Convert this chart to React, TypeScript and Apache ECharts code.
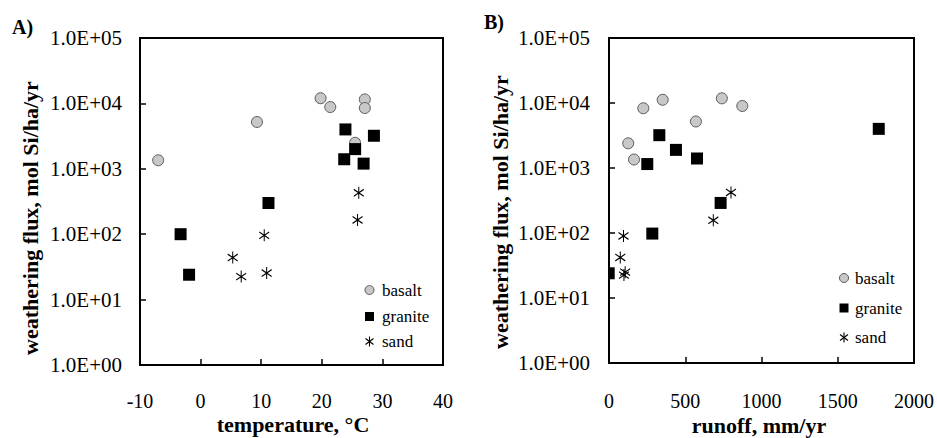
import React, { useEffect, useRef } from "react";
import * as echarts from "echarts";

// ---- Panel A: temperature (°C) vs weathering flux ----
const basaltTemp = [-7, 9.3, 19.8, 21.4, 27.1, 27.1, 25.5];
const basaltFluxA = [1350, 5200, 12000, 8800, 11500, 8500, 2500];
const graniteTemp = [-3.3, -1.9, 11.2, 23.9, 28.6, 25.5, 23.7, 26.9];
const graniteFluxA = [100, 24, 300, 4000, 3200, 2000, 1400, 1200];
const sandTemp = [5.3, 6.7, 10.5, 10.9, 26.1, 25.9];
const sandFluxA = [44, 22.5, 96, 25.5, 430, 165];

// ---- Panel B: runoff (mm/yr) vs weathering flux ----
const basaltRunoff = [126, 164, 225, 352, 570, 740, 874];
const basaltFluxB = [2400, 1350, 8300, 11200, 5200, 11800, 9000];
const graniteRunoff = [330, 439, 577, 251, 1769, 732, 284, -2];
const graniteFluxB = [3200, 1900, 1400, 1150, 4000, 290, 98, 24];
const sandRunoff = [95, 74, 98, 106, 800, 684];
const sandFluxB = [90, 42, 22.5, 25, 420, 157];

const tempTicks = { min: -10, max: 40, interval: 10 };
const runoffTicks = { min: 0, max: 2000, interval: 500 };
const fluxRange = { min: 1, max: 100000 };

const seriesNames = ["basalt", "granite", "sand"];

const FONT = "'Liberation Serif', 'Times New Roman', serif";
const STAR = "path://M5,0 L5,12 M0,2.6 L10,9.4 M0,9.4 L10,2.6";

const zip = (xs: number[], ys: number[]) => xs.map((x, i) => [x, ys[i]]);

const circleStyle = { color: "#c8c8c8", borderColor: "#5a5a5a", borderWidth: 1, opacity: 1 };
const squareStyle = { color: "#000", borderColor: "#000", borderWidth: 0, opacity: 1 };
const starStyle = { color: "#000", borderColor: "#000", borderWidth: 1.1, opacity: 1 };

function xAxisCfg(grid: number, t: { min: number; max: number; interval: number }, margin: number) {
  return {
    gridIndex: grid,
    type: "value",
    min: t.min,
    max: t.max,
    interval: t.interval,
    axisLine: { show: true, onZero: false, lineStyle: { color: "#000", width: 2 } },
    axisTick: { show: true, inside: true, length: 6, lineStyle: { color: "#000", width: 1.5 } },
    axisLabel: {
      fontSize: 20,
      color: "#000",
      fontFamily: FONT,
      margin,
      formatter: (v: number) => String(v),
    },
    splitLine: { show: false },
  };
}

function yAxisCfg(grid: number, margin: number) {
  return {
    gridIndex: grid,
    type: "log",
    logBase: 10,
    min: fluxRange.min,
    max: fluxRange.max,
    axisLine: { show: true, onZero: false, lineStyle: { color: "#000", width: 2 } },
    axisTick: { show: true, inside: true, length: 6, lineStyle: { color: "#000", width: 1.5 } },
    minorTick: { show: false },
    axisLabel: {
      fontSize: 21,
      color: "#000",
      fontFamily: FONT,
      margin,
      formatter: (v: number) => "1.0E+" + String(Math.round(Math.log10(v))).padStart(2, "0"),
    },
    splitLine: { show: false },
  };
}

// hand-drawn legend: icons + serif labels
function legendGraphics(cx: number, textX: number, ys: number[]) {
  const els: any[] = [];
  const [y0, y1, y2] = ys;
  els.push({ type: "circle", shape: { cx, cy: y0, r: 4.5 }, style: { fill: "#c8c8c8", stroke: "#5a5a5a", lineWidth: 1 } });
  els.push({ type: "rect", shape: { x: cx - 4.5, y: y1 - 4.5, width: 9, height: 9 }, style: { fill: "#000" } });
  els.push({ type: "line", shape: { x1: cx, y1: y2 - 5, x2: cx, y2: y2 + 5 }, style: { stroke: "#000", lineWidth: 1.1 } });
  els.push({ type: "line", shape: { x1: cx - 4, y1: y2 - 3, x2: cx + 4, y2: y2 + 3 }, style: { stroke: "#000", lineWidth: 1.1 } });
  els.push({ type: "line", shape: { x1: cx - 4, y1: y2 + 3, x2: cx + 4, y2: y2 - 3 }, style: { stroke: "#000", lineWidth: 1.1 } });
  seriesNames.forEach((n, i) => {
    els.push({
      type: "text",
      x: textX,
      y: ys[i],
      style: {
        text: n,
        fontSize: 17,
        fontFamily: FONT,
        fontWeight: "normal",
        fill: "#000",
        align: "left",
        verticalAlign: "middle",
        textAlign: "left",
        textVerticalAlign: "middle",
      },
    });
  });
  return els;
}

export default function App() {
  const ref = useRef<HTMLDivElement>(null);

  useEffect(() => {
    if (!ref.current) return;
    const chart = echarts.init(ref.current, null, { renderer: "svg" });

    const titleStyle = (text: string) => ({
      text,
      font: `bold 22px ${FONT}`,
      fill: "#000",
      align: "center",
      verticalAlign: "middle",
      textAlign: "center",
      textVerticalAlign: "middle",
    });

    const option: any = {
      animation: false,
      backgroundColor: "#fff",
      textStyle: { fontFamily: FONT },
      grid: [
        { left: 140, top: 38, width: 303, height: 327, show: true, borderColor: "#000", borderWidth: 2 },
        { left: 609, top: 38, width: 305, height: 325, show: true, borderColor: "#000", borderWidth: 2 },
      ],
      xAxis: [xAxisCfg(0, tempTicks, 26), xAxisCfg(1, runoffTicks, 28)],
      yAxis: [yAxisCfg(0, 18), yAxisCfg(1, 19)],
      series: [
        {
          name: "basalt",
          type: "scatter",
          xAxisIndex: 0,
          yAxisIndex: 0,
          symbol: "circle",
          symbolSize: 11,
          itemStyle: circleStyle,
          data: zip(basaltTemp, basaltFluxA),
        },
        {
          name: "granite",
          type: "scatter",
          xAxisIndex: 0,
          yAxisIndex: 0,
          symbol: "rect",
          symbolSize: 12,
          itemStyle: squareStyle,
          data: zip(graniteTemp, graniteFluxA),
        },
        {
          name: "sand",
          type: "scatter",
          xAxisIndex: 0,
          yAxisIndex: 0,
          symbol: STAR,
          symbolSize: [10, 12],
          itemStyle: starStyle,
          data: zip(sandTemp, sandFluxA),
        },
        {
          name: "basalt",
          type: "scatter",
          xAxisIndex: 1,
          yAxisIndex: 1,
          symbol: "circle",
          symbolSize: 11,
          itemStyle: circleStyle,
          data: zip(basaltRunoff, basaltFluxB),
        },
        {
          name: "granite",
          type: "custom",
          xAxisIndex: 1,
          yAxisIndex: 1,
          encode: { x: 0, y: 1 },
          clip: false,
          renderItem: (params: any, api: any) => {
            const p = api.coord([api.value(0), api.value(1)]);
            const cs = params.coordSys;
            const half = 6;
            const x0 = Math.max(p[0] - half, cs.x + 1);
            const x1 = Math.min(p[0] + half, cs.x + cs.width);
            const y0 = Math.max(p[1] - half, cs.y);
            const y1 = Math.min(p[1] + half, cs.y + cs.height);
            if (x1 <= x0 || y1 <= y0) return null;
            return { type: "rect", shape: { x: x0, y: y0, width: x1 - x0, height: y1 - y0 }, style: { fill: "#000" } };
          },
          data: zip(graniteRunoff, graniteFluxB),
        },
        {
          name: "sand",
          type: "scatter",
          xAxisIndex: 1,
          yAxisIndex: 1,
          symbol: STAR,
          symbolSize: [10, 12],
          itemStyle: starStyle,
          data: zip(sandRunoff, sandFluxB),
        },
      ],
      graphic: [
        { type: "text", x: 12, y: 27, style: { ...titleStyle("A)"), font: `bold 20px ${FONT}`, align: "left", textAlign: "left" } },
        { type: "text", x: 484, y: 22, style: { ...titleStyle("B)"), font: `bold 20px ${FONT}`, align: "left", textAlign: "left" } },
        { type: "text", x: 30, y: 218, rotation: Math.PI / 2, style: titleStyle("weathering flux, mol Si/ha/yr") },
        { type: "text", x: 500, y: 212, rotation: Math.PI / 2, style: titleStyle("weathering flux, mol Si/ha/yr") },
        { type: "text", x: 293, y: 424, style: titleStyle("temperature, °C") },
        { type: "text", x: 759, y: 425, style: titleStyle("runoff, mm/yr") },
        ...legendGraphics(369.5, 382, [290, 316.5, 341.5]),
        ...legendGraphics(844, 855, [278, 308, 337.5]),
      ],
    };

    chart.setOption(option);
    return () => chart.dispose();
  }, []);

  return <div ref={ref} style={{ width: 937, height: 438, position: "absolute", left: 0, top: 0 }} />;
}
